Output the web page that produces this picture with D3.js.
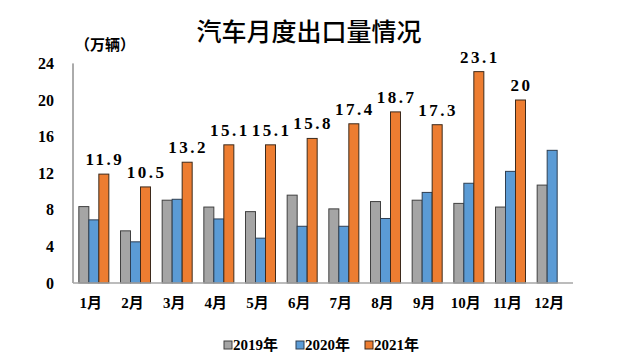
<!DOCTYPE html>
<html>
<head>
<meta charset="utf-8">
<script src="https://cdn.jsdelivr.net/npm/d3@7"></script>
<style>
  html, body { margin: 0; padding: 0; background: #fff; }
  svg { display: block; }
  text { font-family: "Liberation Serif", "Noto Sans CJK SC", serif; font-weight: bold; fill: #000; }
</style>
</head>
<body>
<script>
const months = ["1月","2月","3月","4月","5月","6月","7月","8月","9月","10月","11月","12月"];
const seriesNames = ["2019年","2020年","2021年"];
const v2019 = [8.35, 5.7, 9.05, 8.3, 7.8, 9.6, 8.1, 8.9, 9.05, 8.7, 8.3, 10.7];
const v2020 = [6.9, 4.5, 9.15, 7.0, 4.9, 6.2, 6.2, 7.05, 9.9, 10.9, 12.2, 14.5];
const v2021 = [11.9, 10.5, 13.2, 15.1, 15.1, 15.8, 17.4, 18.7, 17.3, 23.1, 20, null];
const yTicks = [0, 4, 8, 12, 16, 20, 24];
const colors = ["#A5A5A5", "#5B9BD5", "#ED7D31"];
const strokes = ["#404040", "#2f3f52", "#3d2a1c"];

const W = 629, H = 359;
const svg = d3.select("body").append("svg").attr("width", W).attr("height", H);

const x0 = d3.scaleBand().domain(months).range([73, 573]).paddingInner(0.28).paddingOuter(0.14);
const x1 = d3.scaleBand().domain(seriesNames).range([0, x0.bandwidth()]).padding(0);
const y = d3.scaleLinear().domain([0, 24]).range([283, 63.4]);

const all = [v2019, v2020, v2021];

// title
svg.append("text").attr("x", 309).attr("y", 41).attr("text-anchor", "middle")
  .style("font-family", "'Noto Sans CJK SC', sans-serif").style("font-size", "25px").style("font-weight", "500")
  .text("汽车月度出口量情况");
svg.append("text").attr("x", 75).attr("y", 50)
  .style("font-family", "'Noto Sans CJK SC', sans-serif").style("font-size", "15px")
  .text("（万辆）");

// y axis labels
svg.append("g").selectAll("text").data(yTicks).join("text")
  .attr("x", 54).attr("y", d => y(d)).attr("dy", "0.35em").attr("text-anchor", "end")
  .style("font-size", "16px").text(d => d);

// bars
seriesNames.forEach((s, si) => {
  svg.append("g").selectAll("rect").data(months.map((m, i) => ({ m, v: all[si][i] })).filter(d => d.v != null))
    .join("rect")
    .attr("x", d => x0(d.m) + x1(s))
    .attr("y", d => y(d.v))
    .attr("width", x1.bandwidth())
    .attr("height", d => y(0) - y(d.v))
    .attr("fill", colors[si])
    .attr("stroke", strokes[si]).attr("stroke-width", 1);
});

// axes lines
svg.append("line").attr("x1", 73).attr("x2", 73).attr("y1", y(24)).attr("y2", y(0)).attr("stroke", "#595959").attr("stroke-width", 1);
svg.append("line").attr("x1", 73).attr("x2", 573).attr("y1", y(0)).attr("y2", y(0)).attr("stroke", "#a6a6a6").attr("stroke-width", 1.3);

// data labels for 2021
svg.append("g").selectAll("text").data(months.map((m, i) => ({ m, v: v2021[i] })).filter(d => d.v != null))
  .join("text")
  .attr("x", d => x0(d.m) + x1("2021年") + x1.bandwidth() / 2 + 1)
  .attr("y", d => y(d.v) - 9)
  .attr("text-anchor", "middle")
  .style("font-size", "17px").style("letter-spacing", "2.5px")
  .text(d => d.v);

// x labels
svg.append("g").selectAll("text").data(months).join("text")
  .attr("x", d => x0(d) + x0.bandwidth() / 2 - 3)
  .attr("y", 303).attr("dy", "0.35em").attr("text-anchor", "middle")
  .style("font-size", "15px").text(d => d);

// legend
const legX = [224, 296, 365];
seriesNames.forEach((s, i) => {
  const g = svg.append("g").attr("transform", `translate(${legX[i]},345)`);
  g.append("rect").attr("x", 0).attr("y", -4).attr("width", 8).attr("height", 8)
    .attr("fill", colors[i]).attr("stroke", strokes[i]).attr("stroke-width", 1);
  g.append("text").attr("x", 9).attr("y", 0).attr("dy", "0.35em")
    .style("font-size", "15px").text(s);
});
</script>
</body>
</html>
